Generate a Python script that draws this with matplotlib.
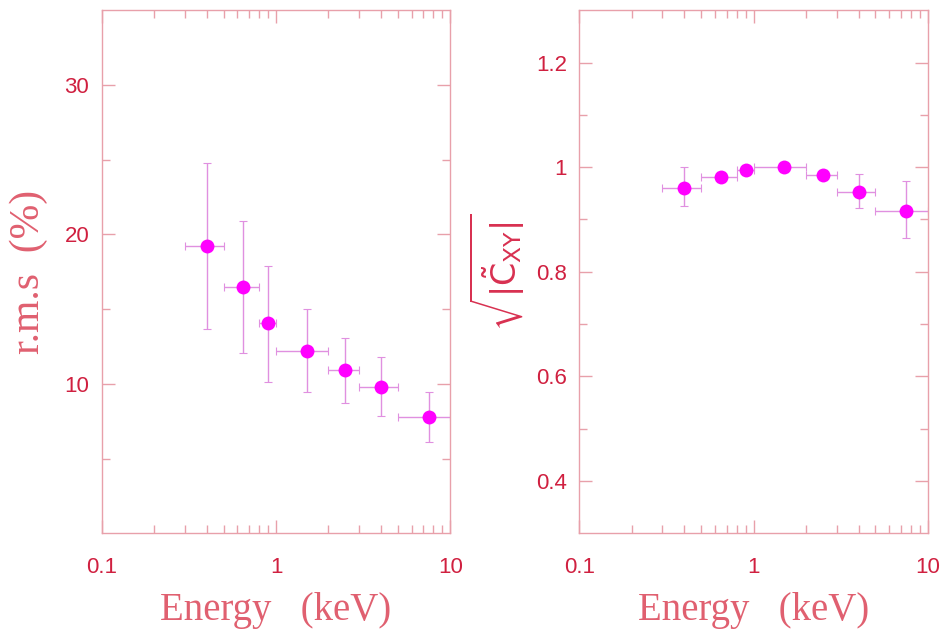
import numpy as np
import matplotlib
matplotlib.use("Agg")
import matplotlib.pyplot as plt
from matplotlib.ticker import FixedLocator, FuncFormatter, LogLocator, NullFormatter

# energy bins (keV)
energy = [0.4, 0.65, 0.9, 1.5, 2.5, 4.0, 7.5]
energy_err = [0.1, 0.15, 0.1, 0.5, 0.5, 1.0, 2.5]

# left panel: fractional rms (%)
rms = [19.2, 16.5, 14.05, 12.2, 10.9, 9.8, 7.8]
rms_lo = [13.65, 12.05, 10.15, 9.45, 8.7, 7.85, 6.1]
rms_hi = [24.8, 20.9, 17.9, 15.0, 13.05, 11.8, 9.45]

# right panel: sqrt(|C_xy|)
coh = [0.961, 0.982, 0.995, 1.0, 0.986, 0.952, 0.917]
coh_lo = [0.925, 0.974, 0.988, 0.993, 0.978, 0.922, 0.864]
coh_hi = [1.0, 0.99, 1.002, 1.007, 0.994, 0.987, 0.973]

frame_col = "#e8a0aa"
tick_lab_col = "#d02040"
label_col = "#e06070"
err_col = "#e090e0"
pt_col = "#ff00ff"

fig = plt.figure(figsize=(9.42, 6.44), dpi=100)
ax1 = fig.add_axes([0.108, 0.172, 0.370, 0.812])
ax2 = fig.add_axes([0.615, 0.172, 0.370, 0.812])


def style(ax):
    ax.set_xscale("log")
    ax.set_xlim(0.1, 10)
    for s in ax.spines.values():
        s.set_color(frame_col)
        s.set_linewidth(1.0)
    ax.xaxis.set_major_locator(FixedLocator([0.1, 1, 10]))
    ax.xaxis.set_major_formatter(FuncFormatter(lambda v, p: "%g" % v))
    ax.xaxis.set_minor_locator(LogLocator(base=10, subs=np.arange(2, 10)))
    ax.xaxis.set_minor_formatter(NullFormatter())
    ax.tick_params(which="both", direction="in", top=True, right=True,
                   color=frame_col, labelcolor=tick_lab_col, width=1.0)
    ax.tick_params(which="major", length=9.5, labelsize=16)
    ax.tick_params(which="minor", length=5.5)
    ax.tick_params(axis="x", which="major", pad=17)
    ax.tick_params(axis="y", which="major", pad=9)
    ax.set_xlabel("Energy   (keV)", family="Liberation Serif", fontsize=28,
                  color=label_col, labelpad=10)


def points(ax, y, lo, hi):
    yerr = [np.array(y) - np.array(lo), np.array(hi) - np.array(y)]
    ax.errorbar(energy, y, xerr=energy_err, yerr=yerr, fmt="none",
                ecolor=err_col, elinewidth=1.0, capsize=3, capthick=0.8)
    ax.plot(energy, y, "o", color=pt_col, markersize=10, markeredgewidth=0)


points(ax1, rms, rms_lo, rms_hi)
style(ax1)
ax1.set_ylim(0, 35)
ax1.yaxis.set_major_locator(FixedLocator([10, 20, 30]))
ax1.yaxis.set_minor_locator(FixedLocator([5, 15, 25]))
ax1.set_ylabel("r.m.s  (%)", family="Liberation Serif", fontsize=30,
               color=label_col, labelpad=12)

points(ax2, coh, coh_lo, coh_hi)
style(ax2)
ax2.set_ylim(0.3, 1.3)
ax2.yaxis.set_major_locator(FixedLocator([0.4, 0.6, 0.8, 1.0, 1.2]))
ax2.yaxis.set_major_formatter(FuncFormatter(lambda v, p: "%g" % v))
ax2.yaxis.set_minor_locator(FixedLocator([0.5, 0.7, 0.9, 1.1]))
ax2.set_ylabel(r"$\sqrt{|\tilde{\mathrm{C}}_{\mathrm{XY}}|}$", fontsize=24,
               color="#d83050", labelpad=6)

for ax in (ax1, ax2):
    for t in ax.get_xticklabels() + ax.get_yticklabels():
        t.set_family("Liberation Sans")

fig.savefig("out.png", dpi=100)
